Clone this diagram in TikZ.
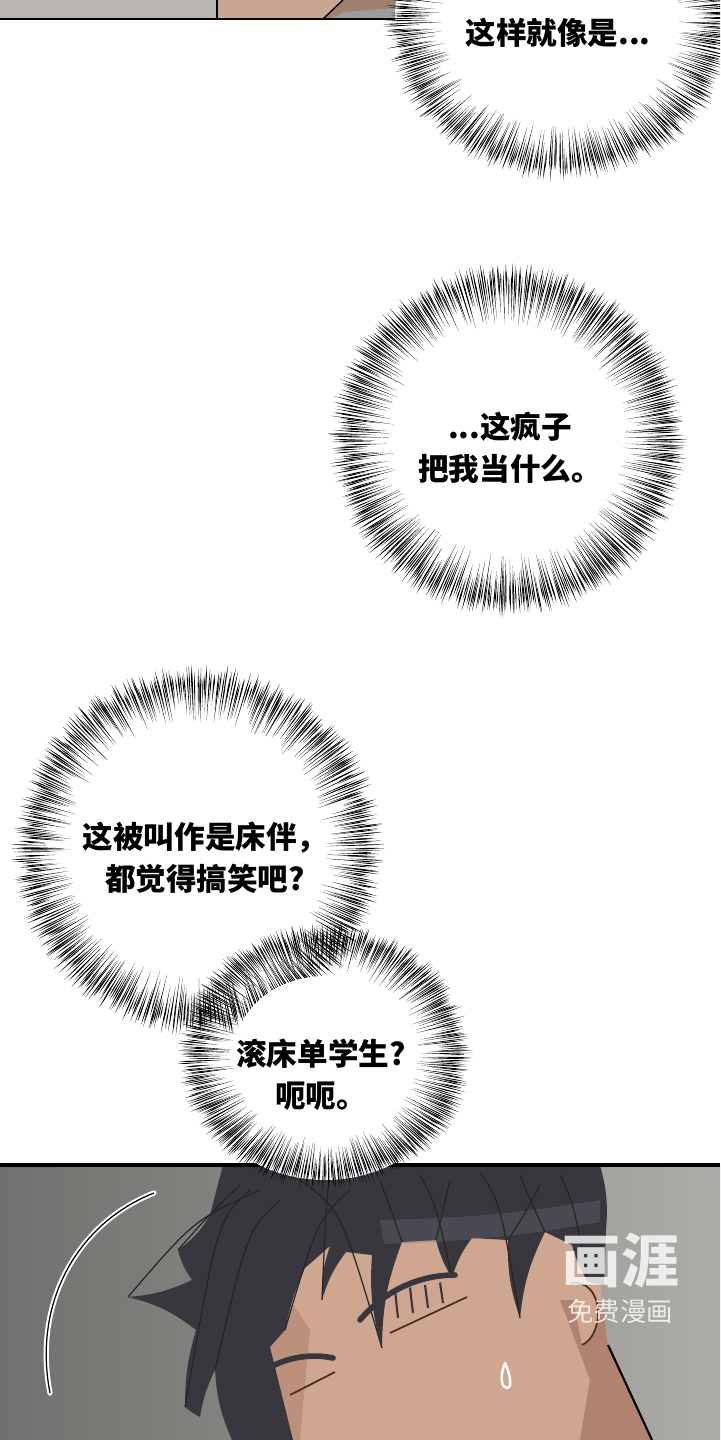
\documentclass[tikz,border=0pt]{standalone}
\usepackage{fontspec}
\usepackage[HTML]{xcolor}
\usepackage{tikz}
\usetikzlibrary{positioning}
\newfontfamily\cjk{Noto Sans CJK SC}
\definecolor{hair}{HTML}{38373D}
\definecolor{hairhi}{HTML}{6E6A78}
\definecolor{skin}{HTML}{CFA690}
\definecolor{skinshade}{HTML}{B08370}
\definecolor{panelA}{HTML}{72706E}
\definecolor{panelB}{HTML}{AEACA9}
\definecolor{stripgray}{HTML}{BAB6B3}
\definecolor{stripskin}{HTML}{C9A692}
\definecolor{stripbrown}{HTML}{A07F70}
\definecolor{stripblue}{HTML}{9A9CA0}
\definecolor{lidline}{HTML}{4A2E24}

\tikzset{
  thought/.style={font=\cjk\bfseries\fontsize{8.7}{11.95}\selectfont, align=center, text=black, inner sep=0pt},
  spike/.style={fill=black},
  hairline/.style={draw=black!85, line width=0.35pt},
  eyelid/.style={draw=hair, line width=1.6pt, line cap=round},
  wmark/.style={text=white, opacity=0.8, inner sep=0pt}
}

\newcommand\spikering[7]{%
  \pgfmathsetseed{#7}%
  \foreach \k in {1,...,#6}{%
    \pgfmathsetmacro\ang{360*(\k/#6)+rnd*0.8}%
    \pgfmathsetmacro\spkA{#5+rnd*(1-#5)*0.5}%
    \pgfmathsetmacro\spkB{0.92+rnd*0.08}%
    \pgfmathsetmacro\spkM{\spkA+0.68*(\spkB-\spkA)}%
    \pgfmathsetmacro\dw{0.55*57.3/(\spkM*#3)}%
    \fill[spike] ({#1+\spkA*#3*cos(\ang)},{#2+\spkA*#4*sin(\ang)})
      -- ({#1+\spkM*#3*cos(\ang+\dw)},{#2+\spkM*#4*sin(\ang+\dw)})
      -- ({#1+\spkB*#3*cos(\ang)},{#2+\spkB*#4*sin(\ang)})
      -- ({#1+\spkM*#3*cos(\ang-\dw)},{#2+\spkM*#4*sin(\ang-\dw)}) -- cycle;
  }}

\begin{document}
\begin{tikzpicture}[x=0.01cm, y=-0.01cm]
\useasboundingbox (0,0) rectangle (720,1440);
\clip (0,0) rectangle (720,1440);
\fill[white] (0,0) rectangle (720,1440);

% top strip
\fill[stripgray] (0,0) rectangle (420,19);
\fill[stripskin] (217,0) -- (343,0) -- (323,19) -- (217,19) -- cycle;
\fill[stripbrown] (343,0) -- (420,0) -- (420,19) -- (323,19) -- cycle;
\fill[stripblue] (330,19) -- (345,12) -- (420,6) -- (420,19) -- cycle;
\draw[black, line width=0.4pt] (217,0) -- (217,19);
\draw[black, line width=0.4pt] (323,19) -- (343,0);
\draw[black, line width=0.6pt] (0,19) -- (420,19);

% bottom panel
\begin{scope}
\clip (0,1165) rectangle (720,1440);
\shade[left color=panelA, right color=panelB] (0,1165) rectangle (720,1440);
\fill[skin] (293,1440) -- (270,1347) -- (290,1280) -- (330,1228) -- (420,1205) -- (560,1215) -- (598,1260) -- (602,1300) -- (608,1345) -- (652,1440) -- cycle;
\fill[skinshade] (560,1300) -- (602,1300) -- (608,1345) -- (652,1440) -- (580,1440) -- (590,1380) -- cycle;
\fill[skinshade, opacity=0.6] (293,1440) -- (270,1347) -- (290,1300) -- (310,1330) -- (300,1440) -- cycle;
\fill[skin] (570,1283) .. controls (605,1278) and (605,1335) .. (582,1345) -- cycle;
\draw[lidline, line width=0.5pt] (570,1283) .. controls (605,1278) and (605,1335) .. (582,1345);
\draw[black, line width=0.6pt] (608,1345) -- (652,1440);
\fill[hair] (223,1165) -- (600,1165) to[bend left=10] (606,1230) -- (604,1285) -- (588,1282)
  to[bend left=8] (572,1245) -- (545,1232) to[bend right=10] (520,1318) to[bend left=10] (508,1240)
  -- (472,1238) to[bend right=10] (452,1278) to[bend left=8] (436,1240) -- (402,1242)
  to[bend right=10] (382,1348) to[bend left=10] (372,1255) -- (346,1252) to[bend right=10] (322,1300)
  to[bend left=10] (330,1246) -- (305,1268) to[bend right=6] (285,1330) -- (270,1347)
  -- (293,1440) -- (232,1440) to[bend left=10] (215,1370) to[bend right=8] (200,1417)
  to[bend left=6] (185,1407) to[bend left=8] (196,1330) to[bend right=12] (128,1297)
  to[bend right=10] (192,1280) to[bend left=10] (178,1250) to[bend right=12] (210,1215) -- cycle;
\fill[hairhi, opacity=0.35] (380,1220) to[bend right=4] (600,1200) -- (600,1222) to[bend left=4] (384,1244) -- cycle;
\foreach \sx/\sy/\ex/\ey in {300/1180/382/1348, 330/1175/322/1300, 420/1175/452/1278, 480/1172/520/1318,
  250/1190/185/1407, 260/1190/128/1297, 240/1185/178/1250, 280/1200/215/1370, 350/1190/285/1330,
  520/1175/545/1232, 560/1175/588/1282, 380/1180/402/1242, 450/1180/436/1240, 540/1185/508/1240}{
  \draw[hairline] (\sx,\sy) .. controls ({(\sx+\ex)/2},{\sy+30}) .. (\ex,\ey);
}
\draw[eyelid] (360,1320) .. controls (385,1290) and (420,1275) .. (455,1275);
\foreach \lx in {395,410,425,440}{
  \draw[hair, line width=0.6pt] (\lx,{1290-(\lx-395)/6}) -- (\lx+3,{1318-(\lx-395)/3});
}
\draw[lidline, line width=0.5pt] (390,1333) -- (467,1297);
\draw[eyelid] (255,1378) .. controls (275,1360) and (305,1352) .. (333,1358);
\draw[lidline, line width=0.5pt] (290,1395) -- (335,1372);
\draw[white, line width=0.7pt, line cap=round] (505,1363) .. controls (499,1378) and (502,1388) .. (507,1388) .. controls (512,1388) and (511,1376) .. (505,1363);
\draw[white, line width=1.5pt, line cap=round] (154,1193) .. controls (80,1222) and (32,1300) .. (50,1393);
\draw[black, line width=0.35pt] (154,1193) .. controls (80,1222) and (32,1300) .. (50,1393);
\node[wmark, font=\cjk\bfseries\fontsize{16.5}{18}\selectfont] (wm1) at (621,1261) {画涯};
\node[wmark, font=\cjk\fontsize{7.5}{9}\selectfont] (wm2) at (620,1311) {免费漫画};
\end{scope}
\draw[black, line width=1pt] (0,1165) -- (720,1165);

% bubbles
\fill[white] (560,18) ellipse (165 and 152);
\fill[white] (508,440) ellipse (167 and 165);
\fill[white] (198,850) ellipse (174 and 174);
\fill[white] (325,1056) ellipse (138 and 124);
\spikering{560}{18}{178}{164}{0.66}{480}{11}
\spikering{508}{440}{180}{178}{0.64}{520}{23}
\spikering{198}{850}{187}{187}{0.68}{540}{37}
\fill[white] (325,1056) ellipse (92 and 80);
\spikering{325}{1056}{148}{134}{0.62}{440}{41}

\node[thought] (t1) at (558,33) {这样就像是...};
\node[thought] (t2) at (510,448) {...这疯子\\把我当什么。};
\node[thought] (t3) at (205,858) {这被叫作是床伴，\\都觉得搞笑吧?};
\node[thought] (t4) at (321,1075) {滚床单学生?\\呃呃。};
\end{tikzpicture}
\end{document}
